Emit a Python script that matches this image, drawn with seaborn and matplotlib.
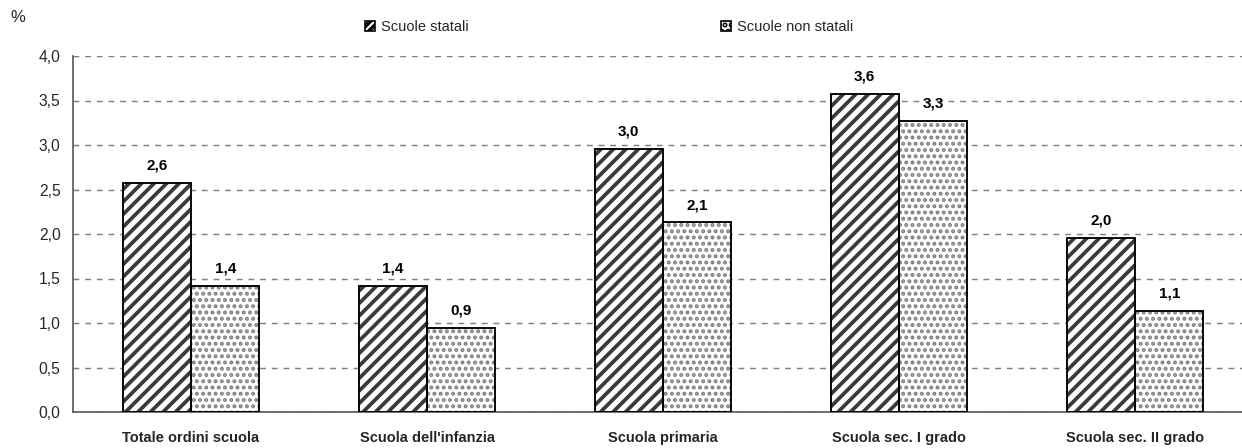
import matplotlib
matplotlib.use("Agg")
import matplotlib.pyplot as plt
from matplotlib.patches import Rectangle, Patch
import seaborn as sns
import pandas as pd

categories = ["Totale ordini scuola", "Scuola dell'infanzia", "Scuola primaria",
              "Scuola sec. I grado", "Scuola sec. II grado"]
statali = [2.57, 1.42, 2.96, 3.57, 1.96]
non_statali = [1.42, 0.94, 2.13, 3.27, 1.14]
series = ["Scuole statali", "Scuole non statali"]
yticks = [0.0, 0.5, 1.0, 1.5, 2.0, 2.5, 3.0, 3.5, 4.0]

sns.set_theme(style="white")
plt.rcParams['font.family'] = ['Liberation Sans', 'DejaVu Sans']
plt.rcParams['hatch.linewidth'] = 1.8

df = pd.DataFrame({
    "cat": categories * 2,
    "val": statali + non_statali,
    "serie": [series[0]] * len(categories) + [series[1]] * len(categories),
})

DPI = 150
fig = plt.figure(figsize=(1242 / DPI, 448 / DPI), dpi=DPI)
ax = fig.add_axes([73 / 1242, (448 - 412) / 448, (1253 - 73) / 1242, (412 - 56) / 448])

sns.barplot(data=df, x="cat", y="val", hue="serie", order=categories, hue_order=series,
            palette=["white", "white"], width=0.58, ax=ax, legend=False,
            edgecolor="black", linewidth=0, errorbar=None)

hatches = ["////", "...."]
hcolors = ["#3a3a3a", "#7f7f7f"]
hlw = [1.8, 1.3]
for i, cont in enumerate(ax.containers):
    for bar in cont:
        bar.set_facecolor("white")
        bar.set_hatch(hatches[i])
        bar.set_edgecolor(hcolors[i])
        bar.set_linewidth(0)
        if hasattr(bar, "set_hatch_linewidth"):
            bar.set_hatch_linewidth(hlw[i])
        x0, y0 = bar.get_xy()
        ax.add_patch(Rectangle((x0, y0), bar.get_width(), bar.get_height(),
                               fill=False, edgecolor="black", linewidth=0.9, zorder=3))
        h = bar.get_height()
        ax.annotate(f"{h:.1f}".replace(".", ","), (x0 + bar.get_width() / 2, h),
                    xytext=(0, 5), textcoords="offset points", ha="center", va="bottom",
                    fontsize=7.3, fontweight="bold", color="black")

ax.set_ylim(0, 4.0)
ax.set_xlim(-0.5, 4.5)
ax.set_yticks(yticks)
ax.set_yticklabels([f"{t:.1f}".replace(".", ",") for t in yticks])
ax.yaxis.grid(True, linestyle=(0, (4, 4)), color="#808080", linewidth=0.7)
ax.set_axisbelow(True)

ax.set_xticks([k - 0.5 for k in range(len(categories) + 1)])
ax.set_xticklabels([])
ax.set_xticks(range(len(categories)), minor=True)
ax.set_xticklabels(categories, minor=True, fontweight="bold", fontsize=7)
ax.tick_params(axis="x", which="minor", length=0, pad=9)
ax.tick_params(axis="x", which="major", length=3, width=0.8, color="#555555", direction="out")
ax.tick_params(axis="y", length=3, width=0.8, color="#555555", direction="out", pad=3, labelsize=7.5)
ax.set_xlabel("")
ax.set_ylabel("")

for s in ["top", "right"]:
    ax.spines[s].set_visible(False)
for s in ["left", "bottom"]:
    ax.spines[s].set_color("#555555")
    ax.spines[s].set_linewidth(0.8)

fig.text(10 / 1242, 1 - 18 / 448, "%", fontsize=8, va="center", ha="left")

handles = [Patch(facecolor="white", edgecolor="black", hatch="//////", linewidth=0.8),
           Patch(facecolor="white", edgecolor="black", hatch="....", linewidth=0.8)]
fig.legend(handles, series, loc="center left", bbox_to_anchor=(365 / 1242, 1 - 27 / 448),
           ncol=2, frameon=False, fontsize=7, handlelength=0.7, handleheight=0.7,
           handletextpad=0.4, columnspacing=17.3, borderpad=0, borderaxespad=0)

fig.savefig("out.png", dpi=DPI)
